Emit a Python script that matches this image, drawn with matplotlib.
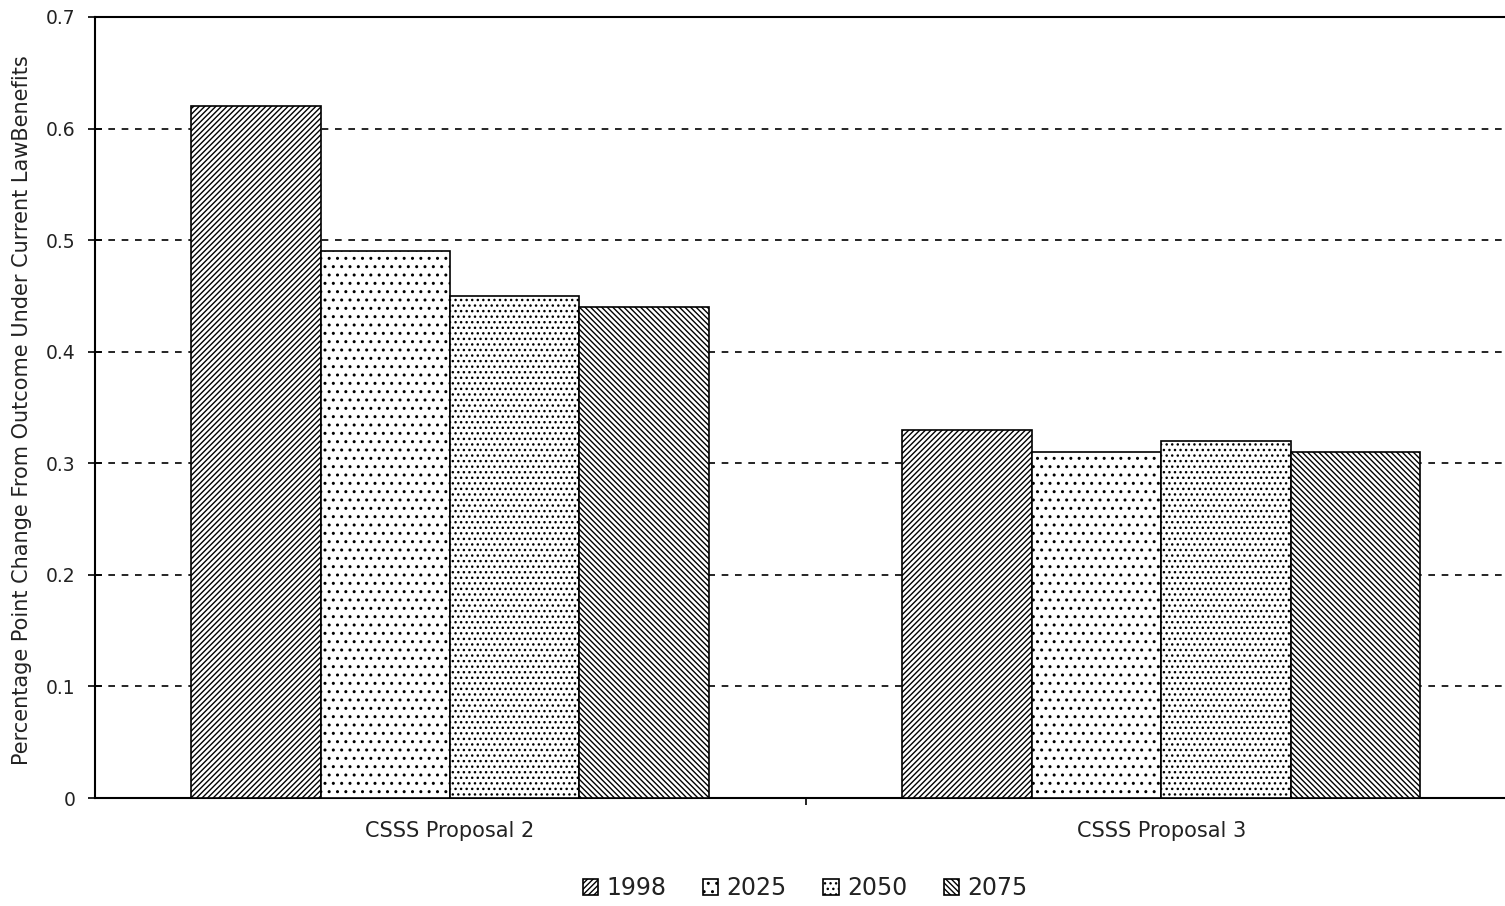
import matplotlib
matplotlib.use("Agg")
import matplotlib.pyplot as plt
import numpy as np

plt.rcParams['font.family'] = ['DejaVu Sans']
plt.rcParams['hatch.linewidth'] = 1.0

categories = ["CSSS Proposal 2", "CSSS Proposal 3"]
years = ["1998", "2025", "2050", "2075"]
values = {
    "1998": [0.62, 0.33],
    "2025": [0.49, 0.31],
    "2050": [0.45, 0.32],
    "2075": [0.44, 0.31],
}
hatches = ["//////", "..", "...", "\\\\\\\\\\\\"]
yticks = [0, 0.1, 0.2, 0.3, 0.4, 0.5, 0.6, 0.7]
ytick_labels = ["0", "0.1", "0.2", "0.3", "0.4", "0.5", "0.6", "0.7"]

fig = plt.figure(figsize=(15.05, 9.06), dpi=100)
ax = fig.add_axes([95/1505, 1-798/906, 1-95/1505, (798-17)/906])

x = np.arange(len(categories))
w = 0.182
for i, yr in enumerate(years):
    ax.bar(x + (i - 1.5) * w, values[yr], width=w, facecolor='white',
           edgecolor='black', linewidth=1.2, hatch=hatches[i], label=yr, zorder=3)

ax.set_xlim(-0.499, 1.483)
ax.set_ylim(0, 0.7)
ax.set_yticks(yticks)
ax.set_yticklabels(ytick_labels, fontsize=13.5, color='#222222')
ax.set_xticks([0.5])
ax.set_xticklabels([""])
for xi, c in zip(x, categories):
    ax.text(xi, -0.0295, c, ha='center', va='center', fontsize=15, color='#222222')
ax.tick_params(axis='y', direction='inout', length=10, width=1.2, pad=9)
ax.tick_params(axis='x', direction='out', length=5, width=1.2)
ax.yaxis.grid(True, linestyle=(0, (4, 4)), color='black', linewidth=1.2, zorder=0)
ax.set_axisbelow(True)
for s in ['left', 'bottom', 'top']:
    ax.spines[s].set_linewidth(1.5)
ax.spines['right'].set_visible(False)

fig.text(22/1505, 1-410/906, "Percentage Point Change From Outcome Under Current LawBenefits",
         rotation=90, ha='center', va='center', fontsize=15, color='#222222')

leg = ax.legend(loc='center', bbox_to_anchor=((805-95)/1410, -(888-798)/781), ncol=4,
                frameon=False, fontsize=17, handlelength=0.65, handleheight=0.65,
                handletextpad=0.35, columnspacing=1.55, labelcolor='#222222')

fig.savefig("out.png", dpi=100)
